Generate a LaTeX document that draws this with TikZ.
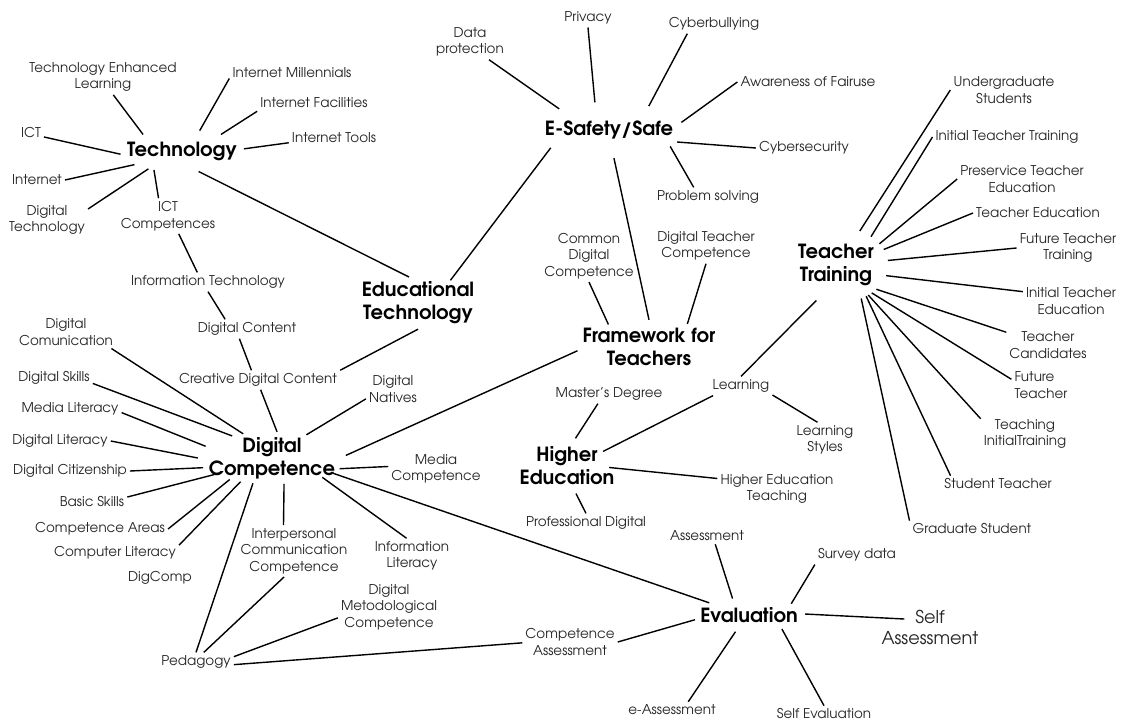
\documentclass[tikz,border=0pt]{standalone}
\usepackage{fontspec}
\setmainfont{texgyreadventor}[Extension=.otf, UprightFont=*-regular, BoldFont=*-bold, ItalicFont=*-italic, BoldItalicFont=*-bolditalic]
\usetikzlibrary{shapes.geometric}
\definecolor{leafink}{HTML}{262626}
\tikzset{
  leaf/.style={font=\fontsize{13.5}{16.5}\selectfont, text=leafink, align=center, inner sep=3pt},
  bigleaf/.style={leaf, font=\fontsize{17.7}{21}\selectfont},
  hub/.style 2 args={ellipse, inner sep=0pt, minimum width=#1pt, minimum height=#2pt},
  hubtext/.style={font=\fontsize{19.5}{23}\selectfont\bfseries, align=center, text=black, inner sep=0pt},
  link/.style={draw=black, line width=1.4pt},
}
\begin{document}
\begin{tikzpicture}[x=1pt, y=-1pt]
\fill[white] (0,0) rectangle (1130,720);
\useasboundingbox (0,0) rectangle (1130,720);

% ---------- hubs ----------
\node[hub={124}{42}, label={[hubtext]center:Technology}] (tech) at (182,151) {};
\node[hub={150}{56}, label={[hubtext]center:E-Safety/Safe}] (esafe) at (609,130) {};
\node[hub={130}{52}, label={[hubtext]center:Educational\\Technology}] (edtech) at (418,303) {};
\node[hub={144}{54}, label={[hubtext]center:Framework for\\Teachers}] (frame) at (649,347) {};
\node[hub={104}{76}, label={[hubtext]center:Teacher\\Training}] (tt) at (836,265) {};
\node[hub={84}{56}, label={[hubtext]center:Higher\\Education}] (he) at (567,466) {};
\node[hub={148}{52}, label={[hubtext]center:Digital\\Competence}] (dc) at (272,458) {};
\node[hub={112}{34}, label={[hubtext]center:Evaluation}] (eval) at (749,615) {};

% ---------- technology ----------
\node[leaf] (tel) at (103,77) {Technology Enhanced\\Learning};
\node[leaf] (imil) at (292,73) {Internet Millennials};
\node[leaf] (ifac) at (314,103) {Internet Facilities};
\node[leaf] (itools) at (334,138) {Internet Tools};
\node[leaf] (ict) at (31,133) {ICT};
\node[leaf] (inet) at (37,180) {Internet};
\node[leaf] (dtech) at (47,220) {Digital\\Technology};
\node[leaf] (ictc) at (168,216) {ICT\\Competences};
\node[leaf] (infotech) at (208,282) {Information Technology};
\node[leaf] (dcontent) at (247,329) {Digital Content};
\node[leaf] (cdc) at (258,380) {Creative Digital Content};

% ---------- e-safety ----------
\node[leaf] (datap) at (470,42) {Data\\protection};
\node[leaf] (priv) at (588,18) {Privacy};
\node[leaf] (cyberb) at (714,24) {Cyberbullying};
\node[leaf] (fair) at (808,82) {Awareness of Fairuse};
\node[leaf] (cybers) at (804,148) {Cybersecurity};
\node[leaf] (probs) at (708,197) {Problem solving};

% ---------- framework ----------
\node[leaf] (cdcomp) at (589,256) {Common\\Digital\\Competence};
\node[leaf] (dtc) at (706,246) {Digital Teacher\\Competence};

% ---------- teacher training ----------
\node[leaf] (ugs) at (1004,90) {Undergraduate\\Students};
\node[leaf] (itt) at (1007,137) {Initial Teacher Training};
\node[leaf] (pte) at (1022,179) {Preservice Teacher\\Education};
\node[leaf] (ted) at (1038,213) {Teacher Education};
\node[leaf] (ftt) at (1068,248) {Future Teacher\\Training};
\node[leaf] (ite) at (1071,301) {Initial Teacher\\Education};
\node[leaf] (tcand) at (1048,345) {Teacher\\Candidates};
\node[leaf, align=left] (ftea) at (1041,385) {Future\\Teacher};
\node[leaf] (tit) at (1025,434) {Teaching\\InitialTraining};
\node[leaf] (stea) at (998,484) {Student Teacher};
\node[leaf] (gstu) at (972,529) {Graduate Student};

% ---------- higher education ----------
\node[leaf] (learn) at (741,386) {Learning};
\node[leaf] (lstyles) at (825,440) {Learning\\Styles};
\node[leaf] (masters) at (609,394) {Master’s Degree};
\node[leaf] (het) at (777,489) {Higher Education\\Teaching};
\node[leaf] (profd) at (586,523) {Professional Digital};

% ---------- digital competence ----------
\node[leaf] (dcom) at (66,332) {Digital\\Comunication};
\node[leaf] (dskills) at (54,378) {Digital Skills};
\node[leaf] (medlit) at (70,409) {Media Literacy};
\node[leaf] (diglit) at (60,441) {Digital Literacy};
\node[leaf] (dcit) at (70,471) {Digital Citizenship};
\node[leaf] (basic) at (92,502) {Basic Skills};
\node[leaf] (careas) at (100,529) {Competence Areas};
\node[leaf] (complit) at (115,553) {Computer Literacy};
\node[leaf] (digcomp) at (160,578) {DigComp};
\node[leaf] (dnat) at (393,389) {Digital\\Natives};
\node[leaf] (medcomp) at (436,469) {Media\\Competence};
\node[leaf] (icc) at (294,551) {Interpersonal\\Communication\\Competence};
\node[leaf] (infolit) at (412,556) {Information\\Literacy};
\node[leaf] (dmc) at (389,607) {Digital\\Metodological\\Competence};
\node[leaf] (ped) at (196,662) {Pedagogy};

% ---------- evaluation ----------
\node[leaf] (assess) at (707,536) {Assessment};
\node[leaf] (survey) at (857,555) {Survey data};
\node[bigleaf] (selfa) at (930,627) {Self\\Assessment};
\node[leaf] (compa) at (570,642) {Competence\\Assessment};
\node[leaf] (eass) at (672,710) {e-Assessment};
\node[leaf] (selfe) at (824,714) {Self Evaluation};

% ---------- connectors ----------
\begin{scope}[link]
% technology
\draw (tech.157) -- (tel.300);
\draw (tech.49) -- (imil.185);
\draw (tech.23) -- (ifac.south west);
\draw (tech.2) -- (itools.186);
\draw (tech.183) -- (ict.343);
\draw (tech.196) -- (inet.east);
\draw (tech.208) -- (dtech.15);
\draw (tech.214) -- (ictc.118);
\draw (tech.309) -- (edtech.109);
\draw (ictc.301) -- (infotech.138);
\draw (infotech.270) -- (dcontent.156);
\draw (dcontent.232) -- (cdc.124);
\draw (cdc.285) -- (dc.79);
\draw (edtech.270) -- (cdc.north east);
% e-safety
\draw (esafe.157) -- (datap.317);
\draw (esafe.117) -- (priv.south);
\draw (esafe.31) -- (cyberb.200);
\draw (esafe.6) -- (fair.west);
\draw (esafe.350) -- (cybers.west);
\draw (esafe.345) -- (probs.146);
\draw (esafe.197) -- (edtech.35);
\draw (esafe.280) -- (frame.90);
% framework
\draw (frame.151) -- (cdcomp.south);
\draw (frame.31) -- (dtc.south);
\draw (frame.183) -- (dc.2);
% teacher training
\draw (tt.55) -- (ugs.west);
\draw (tt.39) -- (itt.west);
\draw (tt.26) -- (pte.west);
\draw (tt.18) -- (ted.west);
\draw (tt.5) -- (ftt.west);
\draw (tt.348) -- (ite.169);
\draw (tt.329) -- (tcand.163);
\draw (tt.322) -- (ftea.169);
\draw (tt.317) -- (tit.161);
\draw (tt.314) -- (stea.170);
\draw (tt.307) -- (gstu.north west);
\draw (tt.241) -- (learn.north);
% higher education
\draw (learn.344) -- (lstyles.113);
\draw (learn.199) -- (he.22);
\draw (he.73) -- (masters.221);
\draw (he.358) -- (het.170);
\draw (he.288) -- (profd.north);
% digital competence
\draw (dc.140) -- (dcom.340);
\draw (dc.151) -- (dskills.352);
\draw (dc.170) -- (medlit.356);
\draw (dc.180) -- (diglit.east);
\draw (dc.188) -- (dcit.east);
\draw (dc.196) -- (basic.8);
\draw (dc.207) -- (careas.east);
\draw (dc.217) -- (complit.7);
\draw (dc.34) -- (dnat.200);
\draw (dc.351) -- (medcomp.177);
\draw (dc.233) -- (ped.north);
\draw (dc.295) -- (icc.112);
\draw (dc.339) -- (infolit.107);
\draw (dc.346) -- (eval.163);
\draw (icc.249) -- (ped.51);
\draw (dmc.192) -- (ped.8);
\draw (ped.356) -- (compa.181);
% evaluation
\draw (eval.135) -- (assess.315);
\draw (eval.15) -- (survey.south west);
\draw (eval.1) -- ([xshift=26pt, yshift=8pt]selfa.west);
\draw (eval.185) -- (compa.east);
\draw (eval.231) -- (eass.27);
\draw (eval.337) -- (selfe.north);
\end{scope}
\end{tikzpicture}
\end{document}
